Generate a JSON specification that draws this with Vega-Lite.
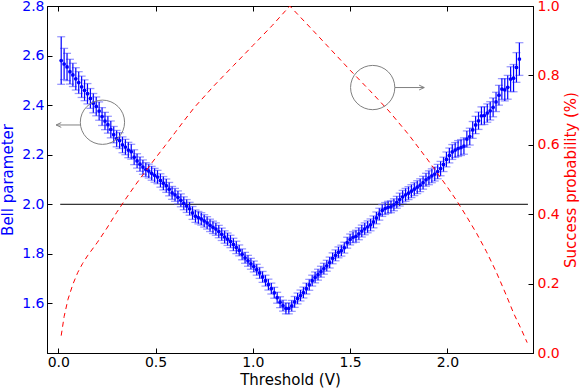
{
"$schema": "https://vega.github.io/schema/vega-lite/v6.json",
"width": 486, "height": 347,
"autosize": "none",
"padding": {"left": 47, "top": 6, "right": 48, "bottom": 36},
"background": "white",
"config": {
 "font": "DejaVu Sans",
 "view": {"stroke": "black", "strokeWidth": 1},
 "axis": {"grid": false, "labelFont": "DejaVu Sans", "titleFont": "DejaVu Sans", "labelFontSize": 14, "titleFontSize": 15, "titleFontWeight": "normal", "domainColor": "black", "tickColor": "black", "tickSize": -5, "labelPadding": 8}
},
"datasets": {
 "pts": [
{"v":0.015,"b":2.580,"e":0.096},{"v":0.030,"b":2.566,"e":0.063},{"v":0.045,"b":2.554,"e":0.055},{"v":0.060,"b":2.535,"e":0.050},
{"v":0.075,"b":2.522,"e":0.047},{"v":0.090,"b":2.506,"e":0.045},{"v":0.105,"b":2.491,"e":0.044},{"v":0.120,"b":2.474,"e":0.043},
{"v":0.135,"b":2.460,"e":0.042},{"v":0.150,"b":2.446,"e":0.041},{"v":0.165,"b":2.427,"e":0.040},{"v":0.180,"b":2.408,"e":0.039},
{"v":0.195,"b":2.395,"e":0.038},{"v":0.210,"b":2.376,"e":0.037},{"v":0.225,"b":2.354,"e":0.036},{"v":0.240,"b":2.336,"e":0.035},
{"v":0.255,"b":2.321,"e":0.034},{"v":0.270,"b":2.302,"e":0.034},{"v":0.285,"b":2.281,"e":0.033},{"v":0.300,"b":2.265,"e":0.033},
{"v":0.315,"b":2.257,"e":0.032},{"v":0.330,"b":2.240,"e":0.032},{"v":0.345,"b":2.231,"e":0.031},{"v":0.360,"b":2.219,"e":0.031},
{"v":0.375,"b":2.212,"e":0.030},{"v":0.390,"b":2.190,"e":0.030},{"v":0.405,"b":2.175,"e":0.029},{"v":0.420,"b":2.162,"e":0.029},
{"v":0.435,"b":2.150,"e":0.029},{"v":0.450,"b":2.140,"e":0.028},{"v":0.465,"b":2.134,"e":0.028},{"v":0.480,"b":2.125,"e":0.028},
{"v":0.495,"b":2.117,"e":0.028},{"v":0.510,"b":2.110,"e":0.027},{"v":0.525,"b":2.096,"e":0.027},{"v":0.540,"b":2.085,"e":0.027},
{"v":0.555,"b":2.075,"e":0.027},{"v":0.570,"b":2.061,"e":0.027},{"v":0.585,"b":2.046,"e":0.026},{"v":0.600,"b":2.038,"e":0.026},
{"v":0.615,"b":2.028,"e":0.026},{"v":0.630,"b":2.016,"e":0.026},{"v":0.645,"b":2.004,"e":0.026},{"v":0.660,"b":1.993,"e":0.026},
{"v":0.675,"b":1.982,"e":0.026},{"v":0.690,"b":1.965,"e":0.026},{"v":0.705,"b":1.952,"e":0.025},{"v":0.720,"b":1.946,"e":0.025},
{"v":0.735,"b":1.941,"e":0.025},{"v":0.750,"b":1.933,"e":0.025},{"v":0.765,"b":1.925,"e":0.025},{"v":0.780,"b":1.915,"e":0.025},
{"v":0.795,"b":1.907,"e":0.025},{"v":0.810,"b":1.900,"e":0.025},{"v":0.825,"b":1.890,"e":0.025},{"v":0.840,"b":1.879,"e":0.025},
{"v":0.855,"b":1.868,"e":0.025},{"v":0.870,"b":1.859,"e":0.025},{"v":0.885,"b":1.850,"e":0.025},{"v":0.900,"b":1.838,"e":0.025},
{"v":0.915,"b":1.826,"e":0.025},{"v":0.930,"b":1.814,"e":0.022},{"v":0.945,"b":1.798,"e":0.022},{"v":0.960,"b":1.784,"e":0.022},
{"v":0.975,"b":1.772,"e":0.022},{"v":0.990,"b":1.760,"e":0.022},{"v":1.005,"b":1.749,"e":0.022},{"v":1.020,"b":1.736,"e":0.022},
{"v":1.035,"b":1.723,"e":0.022},{"v":1.050,"b":1.707,"e":0.022},{"v":1.065,"b":1.692,"e":0.022},{"v":1.080,"b":1.676,"e":0.022},
{"v":1.095,"b":1.660,"e":0.022},{"v":1.110,"b":1.643,"e":0.022},{"v":1.125,"b":1.623,"e":0.022},{"v":1.140,"b":1.605,"e":0.022},
{"v":1.155,"b":1.591,"e":0.022},{"v":1.170,"b":1.580,"e":0.022},{"v":1.185,"b":1.580,"e":0.022},{"v":1.200,"b":1.590,"e":0.022},
{"v":1.215,"b":1.606,"e":0.022},{"v":1.230,"b":1.620,"e":0.022},{"v":1.245,"b":1.632,"e":0.022},{"v":1.260,"b":1.644,"e":0.022},
{"v":1.275,"b":1.660,"e":0.022},{"v":1.290,"b":1.675,"e":0.022},{"v":1.305,"b":1.692,"e":0.022},{"v":1.320,"b":1.705,"e":0.022},
{"v":1.335,"b":1.716,"e":0.022},{"v":1.350,"b":1.728,"e":0.022},{"v":1.365,"b":1.740,"e":0.022},{"v":1.380,"b":1.752,"e":0.022},
{"v":1.395,"b":1.765,"e":0.022},{"v":1.410,"b":1.782,"e":0.022},{"v":1.425,"b":1.794,"e":0.022},{"v":1.440,"b":1.806,"e":0.022},
{"v":1.455,"b":1.813,"e":0.022},{"v":1.470,"b":1.825,"e":0.022},{"v":1.485,"b":1.845,"e":0.022},{"v":1.500,"b":1.858,"e":0.022},
{"v":1.515,"b":1.867,"e":0.022},{"v":1.530,"b":1.871,"e":0.024},{"v":1.545,"b":1.881,"e":0.024},{"v":1.560,"b":1.892,"e":0.024},
{"v":1.575,"b":1.901,"e":0.024},{"v":1.590,"b":1.909,"e":0.024},{"v":1.605,"b":1.917,"e":0.024},{"v":1.620,"b":1.929,"e":0.024},
{"v":1.635,"b":1.945,"e":0.024},{"v":1.650,"b":1.960,"e":0.024},{"v":1.665,"b":1.975,"e":0.024},{"v":1.680,"b":1.983,"e":0.024},
{"v":1.695,"b":1.988,"e":0.024},{"v":1.710,"b":1.990,"e":0.024},{"v":1.725,"b":1.998,"e":0.024},{"v":1.740,"b":2.008,"e":0.024},
{"v":1.755,"b":2.019,"e":0.026},{"v":1.770,"b":2.030,"e":0.026},{"v":1.785,"b":2.038,"e":0.026},{"v":1.800,"b":2.045,"e":0.026},
{"v":1.815,"b":2.053,"e":0.026},{"v":1.830,"b":2.061,"e":0.026},{"v":1.845,"b":2.069,"e":0.026},{"v":1.860,"b":2.077,"e":0.026},
{"v":1.875,"b":2.087,"e":0.026},{"v":1.890,"b":2.099,"e":0.026},{"v":1.905,"b":2.107,"e":0.028},{"v":1.920,"b":2.115,"e":0.028},
{"v":1.935,"b":2.122,"e":0.028},{"v":1.950,"b":2.132,"e":0.029},{"v":1.965,"b":2.144,"e":0.029},{"v":1.980,"b":2.161,"e":0.029},
{"v":1.995,"b":2.181,"e":0.030},{"v":2.010,"b":2.197,"e":0.030},{"v":2.025,"b":2.211,"e":0.030},{"v":2.040,"b":2.219,"e":0.030},
{"v":2.055,"b":2.225,"e":0.032},{"v":2.070,"b":2.229,"e":0.032},{"v":2.085,"b":2.235,"e":0.033},{"v":2.100,"b":2.263,"e":0.033},
{"v":2.115,"b":2.273,"e":0.034},{"v":2.130,"b":2.300,"e":0.034},{"v":2.145,"b":2.320,"e":0.035},{"v":2.160,"b":2.337,"e":0.035},
{"v":2.175,"b":2.357,"e":0.036},{"v":2.190,"b":2.358,"e":0.036},{"v":2.205,"b":2.368,"e":0.037},{"v":2.220,"b":2.377,"e":0.037},
{"v":2.235,"b":2.391,"e":0.038},{"v":2.250,"b":2.413,"e":0.039},{"v":2.265,"b":2.440,"e":0.040},{"v":2.280,"b":2.465,"e":0.042},
{"v":2.295,"b":2.462,"e":0.045},{"v":2.310,"b":2.472,"e":0.048},{"v":2.325,"b":2.505,"e":0.050},{"v":2.340,"b":2.509,"e":0.055},
{"v":2.355,"b":2.552,"e":0.060},{"v":2.370,"b":2.586,"e":0.066}
 ],
 "red": [
{"v":0.015,"s":0.05},{"v":0.03,"s":0.105},{"v":0.05,"s":0.155},{"v":0.075,"s":0.198},{"v":0.10,"s":0.232},{"v":0.125,"s":0.258},
{"v":0.15,"s":0.28},{"v":0.20,"s":0.318},{"v":0.25,"s":0.36},{"v":0.30,"s":0.405},{"v":0.35,"s":0.447},{"v":0.40,"s":0.487},
{"v":0.45,"s":0.525},{"v":0.50,"s":0.562},{"v":0.55,"s":0.598},{"v":0.60,"s":0.635},{"v":0.65,"s":0.672},{"v":0.70,"s":0.708},
{"v":0.80,"s":0.77},{"v":0.90,"s":0.828},{"v":1.00,"s":0.886},{"v":1.10,"s":0.944},{"v":1.19,"s":1.0},{"v":1.30,"s":0.935},
{"v":1.40,"s":0.875},{"v":1.50,"s":0.815},{"v":1.60,"s":0.757},{"v":1.70,"s":0.697},{"v":1.80,"s":0.63},{"v":1.90,"s":0.556},
{"v":2.00,"s":0.478},{"v":2.05,"s":0.437},{"v":2.10,"s":0.392},{"v":2.15,"s":0.345},{"v":2.20,"s":0.293},{"v":2.25,"s":0.235},
{"v":2.30,"s":0.17},{"v":2.34,"s":0.115},{"v":2.38,"s":0.068},{"v":2.41,"s":0.03}
 ],
 "hl": [{"v":0.01,"b":2.0},{"v":2.414,"b":2.0}],
 "circ": [{"v":0.227,"b":2.331},{"v":1.616,"b":2.471}],
 "arrl": [{"g":"L","v":0.115,"b":2.32},{"g":"L","v":-0.011,"b":2.32},{"g":"R","v":1.730,"b":2.471},{"g":"R","v":1.881,"b":2.471}],
 "arrh": [{"d":"L","v":-0.011,"b":2.32},{"d":"R","v":1.881,"b":2.471}]
},
"layer": [
 {
  "encoding": {
   "x": {"field": "v", "type": "quantitative", "scale": {"domain": [-0.058, 2.44], "nice": false, "zero": false},
         "axis": {"orient": "bottom", "title": "Threshold (V)", "values": [0, 0.5, 1, 1.5, 2], "format": ".1f", "labelColor": "black", "titleColor": "black", "titlePadding": 3, "labelPadding": 7}},
   "y": {"field": "b", "type": "quantitative", "scale": {"domain": [1.4, 2.8], "nice": false, "zero": false},
         "axis": {"orient": "left", "title": "Bell parameter", "values": [1.6, 1.8, 2.0, 2.2, 2.4, 2.6, 2.8], "format": ".1f", "labelColor": "#0000ff", "titleColor": "#0000ff", "titlePadding": 6}}
  },
  "layer": [
   {"data": {"name": "hl"}, "mark": {"type": "line", "color": "black", "strokeWidth": 1}},
   {"data": {"name": "pts"}, "mark": {"type": "errorbar", "color": "#0000ff", "thickness": 1.2, "ticks": {"color": "#7070ff", "size": 8, "thickness": 1.3}},
    "encoding": {"yError": {"field": "e"}}},
   {"data": {"name": "pts"}, "mark": {"type": "point", "filled": true, "color": "#0000ff", "size": 14, "opacity": 1}},
   {"data": {"name": "circ"}, "mark": {"type": "point", "shape": "circle", "filled": false, "stroke": "#808080", "strokeWidth": 1, "size": 1960, "opacity": 1}},
   {"data": {"name": "arrl"}, "mark": {"type": "line", "color": "#808080", "strokeWidth": 1}, "encoding": {"detail": {"field": "g"}}},
   {"data": {"name": "arrh"}, "mark": {"type": "point", "filled": false, "stroke": "#808080", "strokeWidth": 1, "size": 36, "opacity": 1},
    "encoding": {"shape": {"field": "d", "type": "nominal", "scale": {"domain": ["L", "R"], "range": ["M1.7,-0.8L0,0L1.7,0.8", "M-1.7,-0.8L0,0L-1.7,0.8"]}, "legend": null}}}
  ]
 },
 {
  "data": {"name": "red"},
  "mark": {"type": "line", "color": "#ff0000", "strokeWidth": 1, "strokeDash": [5, 4]},
  "encoding": {
   "x": {"field": "v", "type": "quantitative", "scale": {"domain": [-0.058, 2.44], "nice": false, "zero": false},
         "axis": {"orient": "top", "labels": false, "title": null, "domain": false, "values": [0, 0.5, 1, 1.5, 2]}},
   "y": {"field": "s", "type": "quantitative", "scale": {"domain": [0, 1], "nice": false, "zero": false},
         "axis": {"orient": "right", "title": "Success probability (%)", "values": [0, 0.2, 0.4, 0.6, 0.8, 1.0], "format": ".1f", "labelColor": "#ff0000", "titleColor": "#ff0000", "labelPadding": 9, "titleAngle": -90, "titleBaseline": "top", "titlePadding": 4}}
  }
 }
],
"resolve": {"scale": {"y": "independent"}, "axis": {"x": "independent"}}
}
